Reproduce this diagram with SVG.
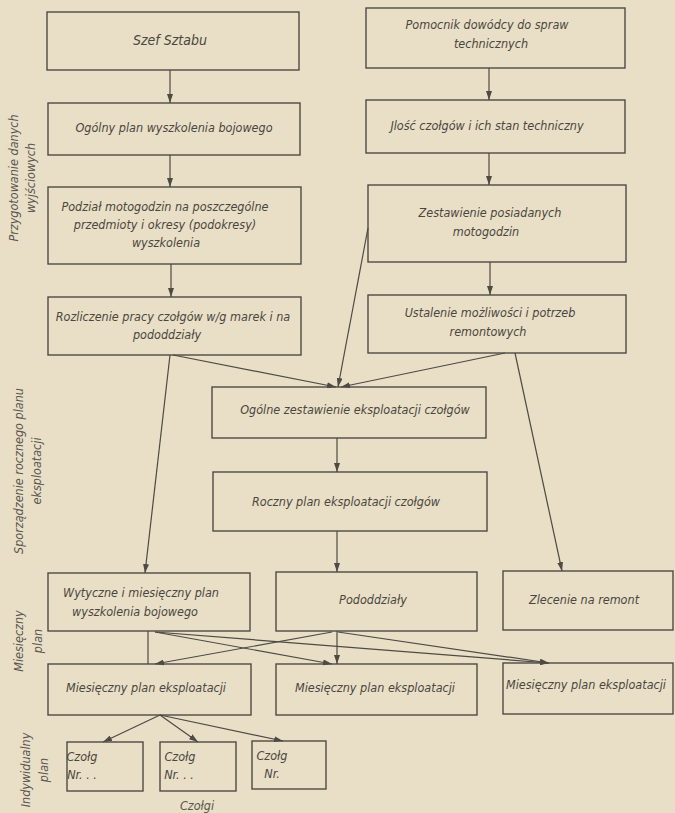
<svg xmlns="http://www.w3.org/2000/svg" width="675" height="813" viewBox="0 0 675 813">
<defs>
<style>
.box{fill:none;stroke:#4e4a44;stroke-width:1.4}
.t{font-family:"DejaVu Sans Condensed","Liberation Sans",sans-serif;font-style:italic;font-size:12.5px;fill:#4a4640;text-anchor:middle}
.l{font-family:"DejaVu Sans Condensed","Liberation Sans",sans-serif;font-style:italic;font-size:12.5px;fill:#5a5650;text-anchor:middle}
.c line{stroke:#4e4a44;stroke-width:1.2}
.a{marker-end:url(#ah)}
</style>
<marker id="ah" markerUnits="userSpaceOnUse" markerWidth="9" markerHeight="6" refX="9" refY="3" orient="auto">
<path d="M0,0 L9,3 L0,6 z" fill="#4e4a44"/>
</marker>
</defs>
<rect width="675" height="813" fill="#e9dfc6"/>

<g id="szef"><rect class="box" x="47" y="12" width="252" height="58"/><text class="t" x="170" y="45" style="font-size:14px">Szef Sztabu</text></g>
<g id="ogolny-plan"><rect class="box" x="48" y="103" width="252" height="52"/><text class="t" x="174" y="132">Ogólny plan wyszkolenia bojowego</text></g>
<g id="podzial"><rect class="box" x="48" y="187" width="253" height="77"/>
<text class="t" x="165" y="211">Podział motogodzin na poszczególne</text>
<text class="t" x="165" y="229">przedmioty i okresy (podokresy)</text>
<text class="t" x="166" y="247">wyszkolenia</text></g>
<g id="rozliczenie"><rect class="box" x="48" y="297" width="253" height="58"/>
<text class="t" x="173" y="321">Rozliczenie pracy czołgów w/g marek i na</text>
<text class="t" x="167" y="339">pododdziały</text></g>

<g id="pomocnik"><rect class="box" x="366" y="8" width="259" height="60"/>
<text class="t" x="487" y="29">Pomocnik dowódcy  do spraw</text>
<text class="t" x="491" y="48">technicznych</text></g>
<g id="ilosc"><rect class="box" x="366" y="100" width="259" height="53"/><text class="t" x="487" y="130">Jlość czołgów i ich stan techniczny</text></g>
<g id="zestawienie"><rect class="box" x="368" y="185" width="258" height="77"/>
<text class="t" x="490" y="217">Zestawienie posiadanych</text>
<text class="t" x="486" y="236">motogodzin</text></g>
<g id="ustalenie"><rect class="box" x="368" y="295" width="258" height="58"/>
<text class="t" x="490" y="317">Ustalenie możliwości i potrzeb</text>
<text class="t" x="488" y="336">remontowych</text></g>

<g id="ogolne-zestawienie"><rect class="box" x="212" y="387" width="274" height="51"/><text class="t" x="355" y="414">Ogólne zestawienie eksploatacji czołgów</text></g>
<g id="roczny-plan"><rect class="box" x="213" y="472" width="274" height="59"/><text class="t" x="346" y="506">Roczny plan eksploatacji czołgów</text></g>

<g id="wytyczne"><rect class="box" x="48" y="573" width="202" height="58"/>
<text class="t" x="141" y="597">Wytyczne i miesięczny plan</text>
<text class="t" x="135" y="616">wyszkolenia bojowego</text></g>
<g id="pododdzialy"><rect class="box" x="276" y="572" width="201" height="59"/><text class="t" x="373" y="604">Pododdziały</text></g>
<g id="zlecenie"><rect class="box" x="503" y="571" width="170" height="59"/><text class="t" x="584" y="604">Zlecenie na remont</text></g>

<g id="miesieczny-1"><rect class="box" x="48" y="664" width="203" height="51"/><text class="t" x="146" y="692">Miesięczny plan  eksploatacji</text></g>
<g id="miesieczny-2"><rect class="box" x="276" y="664" width="201" height="51"/><text class="t" x="375" y="692">Miesięczny plan eksploatacji</text></g>
<g id="miesieczny-3"><rect class="box" x="503" y="663" width="170" height="51"/><text class="t" x="586" y="689">Miesięczny plan eksploatacji</text></g>

<g id="czolg-1"><rect class="box" x="67" y="742" width="76" height="49"/><text class="t" x="82" y="761" text-anchor="start">Czołg</text><text class="t" x="82" y="779" text-anchor="start">Nr. . .</text></g>
<g id="czolg-2"><rect class="box" x="160" y="742" width="76" height="49"/><text class="t" x="180" y="761" text-anchor="start">Czołg</text><text class="t" x="179" y="779" text-anchor="start">Nr. . .</text></g>
<g id="czolg-3"><rect class="box" x="252" y="741" width="74" height="48"/><text class="t" x="272" y="760" text-anchor="start">Czołg</text><text class="t" x="272" y="778" text-anchor="start">Nr.</text></g>
<text class="l" x="197" y="810">Czołgi</text>

<g id="labels">
<text class="l" transform="translate(18,178) rotate(-90)">Przygotowanie danych</text>
<text class="l" transform="translate(35,178) rotate(-90)">wyjściowych</text>
<text class="l" transform="translate(23,471) rotate(-90)">Sporządzenie rocznego planu</text>
<text class="l" transform="translate(41,471) rotate(-90)">eksploatacji</text>
<text class="l" transform="translate(23,641) rotate(-90)">Miesięczny</text>
<text class="l" transform="translate(42,641) rotate(-90)">plan</text>
<text class="l" transform="translate(30,770) rotate(-90)">Indywidualny</text>
<text class="l" transform="translate(48,770) rotate(-90)">plan</text>
</g>

<g id="connectors" class="c">
<line class="a" x1="170" y1="70" x2="170" y2="103"/>
<line class="a" x1="170" y1="155" x2="170" y2="187"/>
<line class="a" x1="171" y1="264" x2="171" y2="297"/>
<line class="a" x1="489" y1="68" x2="489" y2="100"/>
<line class="a" x1="489" y1="153" x2="489" y2="185"/>
<line class="a" x1="490" y1="262" x2="490" y2="295"/>
<line class="a" x1="170" y1="355" x2="145" y2="573"/>
<line class="a" x1="173" y1="355" x2="336" y2="387"/>
<line class="a" x1="368" y1="228" x2="338" y2="387"/>
<line class="a" x1="505" y1="353" x2="341" y2="387"/>
<line class="a" x1="515" y1="353" x2="562" y2="571"/>
<line class="a" x1="337" y1="438" x2="337" y2="472"/>
<line class="a" x1="337" y1="531" x2="337" y2="572"/>
<line x1="148" y1="631" x2="148" y2="664"/>
<line class="a" x1="155" y1="632" x2="332" y2="664"/>
<line class="a" x1="332" y1="632" x2="155" y2="664"/>
<line class="a" x1="337" y1="631" x2="337" y2="664"/>
<line class="a" x1="155" y1="632" x2="549" y2="663"/>
<line class="a" x1="338" y1="632" x2="549" y2="663"/>
<line class="a" x1="160" y1="715" x2="103" y2="742"/>
<line class="a" x1="160" y1="715" x2="198" y2="742"/>
<line class="a" x1="160" y1="715" x2="283" y2="741"/>
</g>
</svg>
